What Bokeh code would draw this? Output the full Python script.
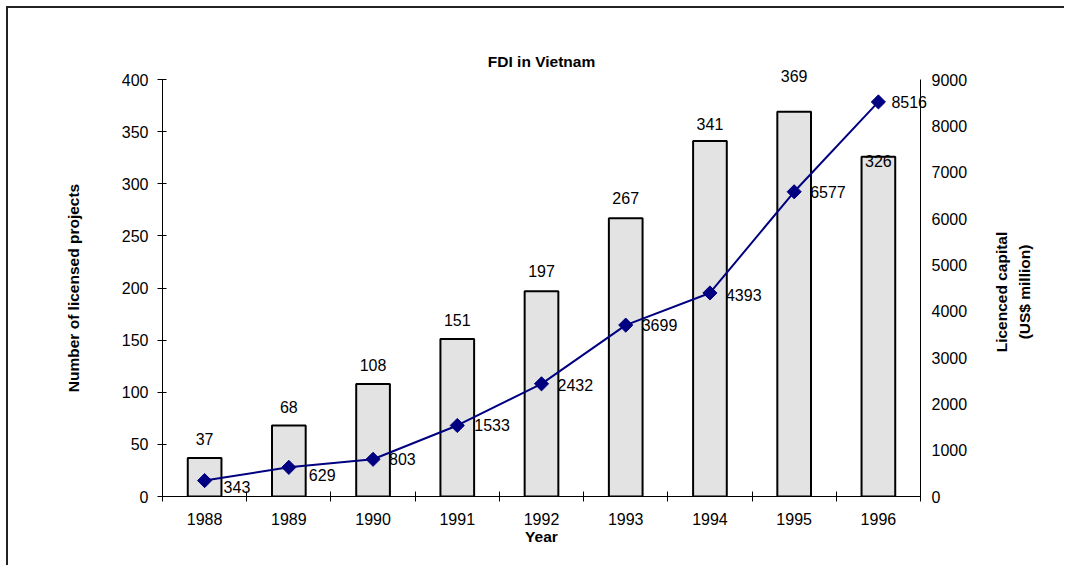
from math import pi
from bokeh.plotting import figure
from bokeh.models import Range1d, LinearAxis, FixedTicker, ColumnDataSource
from bokeh.core.properties import value
from bokeh.embed import file_html
from bokeh.resources import INLINE

# ---- data ----
years = ["1988", "1989", "1990", "1991", "1992", "1993", "1994", "1995", "1996"]
projects = [37, 68, 108, 151, 197, 267, 341, 369, 326]
capital = [343, 629, 803, 1533, 2432, 3699, 4393, 6577, 8516]
right_title = ["Licenced capital", "(US$ million)"]

# ---- label placement (screen pixel offsets, down/right positive; style only) ----
proj_label_dy = [-19, -19, -19, -19, -20, -20, -17, -36, 4]
cap_label_dx = [19, 20, 16, 17, 16, 16, 16, 16, 13]
cap_label_dy = [6, 8, 0, 0, 1, 0, 2, 0, 0]
right_title_dx = [85, 108]

FONT = "Liberation Sans"
NAVY = "#000080"

idx = list(range(len(years)))
src = ColumnDataSource(dict(
    x=idx, projects=projects, capital=capital,
    plab=[str(v) for v in projects], clab=[str(v) for v in capital],
    pdy=proj_label_dy, cdx=cap_label_dx, cdy=cap_label_dy,
))

p = figure(width=1058, height=559, output_backend="svg", toolbar_location=None,
           x_range=Range1d(-0.5, len(years) - 0.5), y_range=Range1d(0, 400),
           min_border_left=154, min_border_right=146, min_border_top=71,
           min_border_bottom=71, x_axis_location="below")
p.styles = {"border-left": "2px solid #222", "border-top": "2px solid #222",
            "margin-left": "6px", "margin-top": "6px"}
p.extra_y_ranges = {"cap": Range1d(0, 9000)}
p.xgrid.visible = False
p.ygrid.visible = False
p.outline_line_color = None
p.background_fill_color = "white"
p.border_fill_color = "white"

p.title.text = "FDI in Vietnam"
p.title.align = "center"
p.title.text_font = FONT
p.title.text_font_size = "15.5px"
p.title.text_font_style = "bold"
p.title.text_color = "black"
p.title.standoff = 20

# bars
p.vbar(x="x", top="projects", bottom=0, width=0.4, source=src,
       fill_color="#e3e3e3", line_color="black", line_width=2)
p.text(x="x", y="projects", text="plab", source=src, y_offset="pdy",
       text_align="center", text_baseline="middle", level="overlay",
       text_font=value(FONT), text_font_size="16px", text_color="black")

# line
p.line(x="x", y="capital", source=src, y_range_name="cap",
       line_color=NAVY, line_width=2)
p.scatter(x="x", y="capital", source=src, y_range_name="cap", marker="square",
          size=10, angle=pi / 4, fill_color=NAVY, line_color=NAVY)
p.text(x="x", y="capital", text="clab", source=src, y_range_name="cap",
       x_offset="cdx", y_offset="cdy", text_align="left", text_baseline="middle",
       level="overlay", text_font=value(FONT), text_font_size="16px",
       text_color="black")

# bottom axis
xa = p.xaxis[0]
xa.ticker = FixedTicker(ticks=idx, minor_ticks=[i - 0.5 for i in range(len(years) + 1)])
xa.major_label_overrides = {i: y for i, y in zip(idx, years)}
xa.major_tick_in = 0
xa.major_tick_out = 0
xa.minor_tick_in = 5
xa.minor_tick_out = 5
xa.major_label_standoff = 11
xa.axis_label = "Year"
xa.axis_label_standoff = 0

# left axis
ya = p.yaxis[0]
ya.ticker = FixedTicker(ticks=list(range(0, 401, 50)))
ya.major_tick_in = 4
ya.major_tick_out = 5
ya.minor_tick_in = 0
ya.minor_tick_out = 0
ya.major_label_standoff = 9
ya.axis_label = "Number of licensed projects"
ya.axis_label_standoff = 37

# right axis
cap_range = p.extra_y_ranges["cap"]
ra = LinearAxis(y_range_name="cap", ticker=FixedTicker(ticks=list(range(0, 9001, 1000))))
ra.major_tick_in = 0
ra.major_tick_out = 0
ra.minor_tick_in = 0
ra.minor_tick_out = 0
ra.major_label_standoff = 11
p.add_layout(ra, "right")

for ax in [xa, ya, ra]:
    ax.axis_line_color = "black"
    ax.axis_line_width = 1
    ax.major_tick_line_color = "black"
    ax.minor_tick_line_color = "black"
    ax.major_label_text_font = FONT
    ax.major_label_text_font_size = "16px"
    ax.major_label_text_color = "black"
    ax.axis_label_text_font = FONT
    ax.axis_label_text_font_size = "15.5px"
    ax.axis_label_text_font_style = "bold"
    ax.axis_label_text_color = "black"

# right axis title: two centred lines reading bottom to top, anchored at the
# frame's right edge (middle of the axis) and pushed out by pixel offsets
n = len(right_title)
tsrc = ColumnDataSource(dict(
    x=[p.x_range.end - 0.05] * n,
    y=[(cap_range.start + cap_range.end) / 2] * n,
    text=right_title, dx=right_title_dx,
))
p.text(x="x", y="y", text="text", source=tsrc, y_range_name="cap",
       x_offset="dx", y_offset=4, angle=pi / 2, text_align="center",
       text_baseline="middle", level="overlay", text_font=value(FONT),
       text_font_size="15.5px", text_font_style="bold", text_color="black")

open("out.html", "w").write(file_html(p, INLINE))
